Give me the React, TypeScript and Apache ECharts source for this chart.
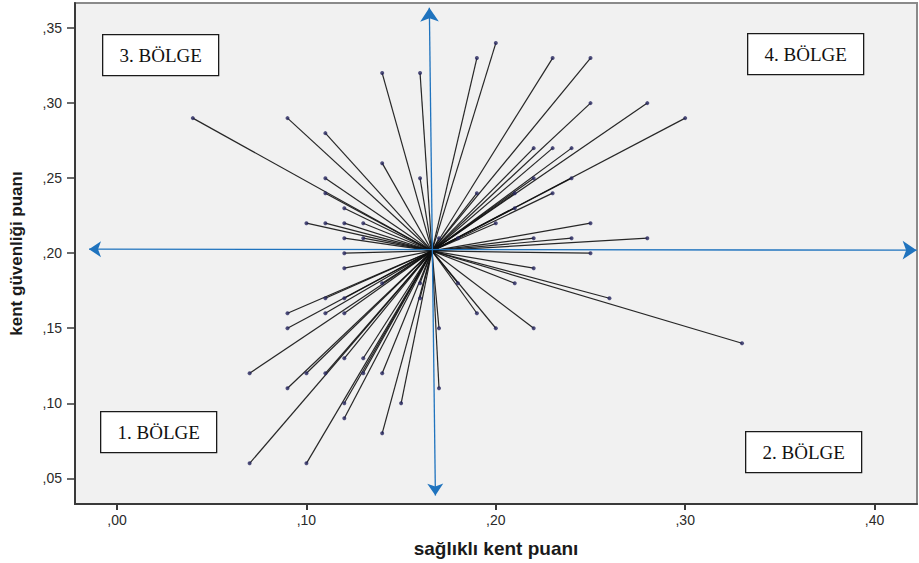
import React, { useEffect, useRef } from "react";
import * as echarts from "echarts";

// Score pairs: [sağlıklı kent puanı, kent güvenliği puanı]
const region3Points: number[][] = [
  [0.04, 0.29], [0.09, 0.29], [0.11, 0.28], [0.14, 0.32], [0.16, 0.32], [0.14, 0.26],
  [0.11, 0.25], [0.16, 0.25], [0.11, 0.24], [0.12, 0.23], [0.10, 0.22], [0.11, 0.22],
  [0.12, 0.22], [0.13, 0.22], [0.12, 0.21], [0.13, 0.21], [0.12, 0.20],
];
const region4Points: number[][] = [
  [0.19, 0.33], [0.20, 0.34], [0.23, 0.33], [0.25, 0.33], [0.25, 0.30], [0.28, 0.30],
  [0.30, 0.29], [0.22, 0.27], [0.23, 0.27], [0.24, 0.27], [0.22, 0.25], [0.24, 0.25],
  [0.19, 0.24], [0.21, 0.24], [0.23, 0.24], [0.21, 0.23], [0.20, 0.22], [0.25, 0.22],
  [0.17, 0.21], [0.18, 0.21], [0.22, 0.21], [0.24, 0.21], [0.28, 0.21], [0.25, 0.20],
];
const region2Points: number[][] = [
  [0.22, 0.19], [0.21, 0.18], [0.18, 0.18], [0.26, 0.17], [0.19, 0.16], [0.20, 0.15],
  [0.22, 0.15], [0.33, 0.14], [0.17, 0.15], [0.17, 0.11],
];
const region1Points: number[][] = [
  [0.12, 0.19], [0.14, 0.18], [0.16, 0.18], [0.11, 0.17], [0.12, 0.17], [0.16, 0.17],
  [0.09, 0.16], [0.11, 0.16], [0.12, 0.16], [0.09, 0.15], [0.12, 0.13], [0.13, 0.13],
  [0.07, 0.12], [0.10, 0.12], [0.11, 0.12], [0.13, 0.12], [0.14, 0.12], [0.09, 0.11],
  [0.12, 0.10], [0.15, 0.10], [0.12, 0.09], [0.14, 0.08], [0.07, 0.06], [0.10, 0.06],
];

// Centroid that every point is joined to
const centerX = 0.1663;
const centerY = 0.2015;

// Quadrant arrows (data coordinates)
const verticalArrow: number[][] = [[0.1681, 0.0385], [0.1649, 0.3636]];
const horizontalArrow: number[][] = [[-0.0148, 0.2027], [0.4222, 0.2020]];

const xTicks = [0, 0.1, 0.2, 0.3, 0.4];
const yTicks = [0.05, 0.1, 0.15, 0.2, 0.25, 0.3, 0.35];
const xRange = [-0.0222, 0.4224];
const yRange = [0.0329, 0.3667];

const xAxisTitle = "sağlıklı kent puanı";
const yAxisTitle = "kent güvenliği puanı";
const regionLabels = ["3. BÖLGE", "4. BÖLGE", "1. BÖLGE", "2. BÖLGE"];

const fmt = (v: number) => "," + v.toFixed(2).split(".")[1];

export default function App() {
  const ref = useRef<HTMLDivElement>(null);
  useEffect(() => {
    if (!ref.current) return;
    const chart = echarts.init(ref.current, undefined, { renderer: "svg" });
    const allPoints = [...region3Points, ...region4Points, ...region2Points, ...region1Points];
    const spokes = allPoints.map((p) => ({ coords: [[centerX, centerY], p] }));
    const sans = "'Liberation Sans', Arial, sans-serif";
    const serif = "'Liberation Serif', 'Times New Roman', serif";
    const box = (label: string, x: number, y: number) => ({
      type: "group",
      left: x,
      top: y,
      children: [
        {
          type: "rect",
          shape: { x: 0, y: 0, width: 116, height: 41 },
          style: { fill: "#ffffff", stroke: "#1a1a1a", lineWidth: 1.3 },
        },
        {
          type: "text",
          x: 58,
          y: 21,
          style: {
            text: label,
            fill: "#111",
            font: `19px ${serif}`,
            align: "center",
            verticalAlign: "middle",
          },
        },
      ],
    });
    chart.setOption({
      animation: false,
      backgroundColor: "#ffffff",
      grid: {
        left: 75,
        top: 3,
        right: 2,
        bottom: 57,
        show: true,
        backgroundColor: "#f1f1f1",
        borderColor: "#8a8a8a",
        borderWidth: 2,
      },
      xAxis: {
        type: "value",
        min: xRange[0],
        max: xRange[1],
        name: xAxisTitle,
        nameLocation: "middle",
        nameGap: 35,
        nameTextStyle: { fontFamily: sans, fontWeight: "bold", fontSize: 19, color: "#1a1a1a" },
        axisLine: { show: true, onZero: false, lineStyle: { color: "#3a3a3a", width: 2 } },
        axisTick: { show: true, customValues: xTicks, length: 6, lineStyle: { color: "#3a3a3a", width: 2 } },
        axisLabel: {
          customValues: xTicks,
          formatter: fmt,
          margin: 9,
          fontFamily: sans,
          fontSize: 14,
          color: "#2a2a2a",
        },
        splitLine: { show: false },
      },
      yAxis: {
        type: "value",
        min: yRange[0],
        max: yRange[1],
        name: yAxisTitle,
        nameLocation: "middle",
        nameGap: 50,
        nameTextStyle: { fontFamily: sans, fontWeight: "bold", fontSize: 17, color: "#1a1a1a" },
        axisLine: { show: true, onZero: false, lineStyle: { color: "#3a3a3a", width: 2 } },
        axisTick: { show: true, customValues: yTicks, length: 8, lineStyle: { color: "#3a3a3a", width: 1.5 } },
        axisLabel: {
          customValues: yTicks,
          formatter: fmt,
          margin: 13,
          fontFamily: sans,
          fontSize: 14,
          color: "#2a2a2a",
        },
        splitLine: { show: false },
      },
      series: [
        {
          type: "lines",
          coordinateSystem: "cartesian2d",
          data: spokes,
          symbol: "none",
          lineStyle: { color: "#111111", width: 1.2, opacity: 0.9 },
          silent: true,
          z: 2,
        },
        {
          type: "lines",
          coordinateSystem: "cartesian2d",
          data: [{ coords: verticalArrow }, { coords: horizontalArrow }],
          symbol: ["arrow", "arrow"],
          symbolSize: [12, 14],
          clip: false,
          lineStyle: { color: "#1f73be", width: 1.3, opacity: 1 },
          silent: true,
          z: 3,
        },
        {
          type: "scatter",
          data: allPoints,
          symbol: "circle",
          symbolSize: 4,
          itemStyle: { color: "#26265e" },
          z: 4,
        },
      ],
      graphic: [
        box(regionLabels[0], 102, 34),
        box(regionLabels[1], 747, 33),
        box(regionLabels[2], 100, 411),
        box(regionLabels[3], 745, 431),
      ],
    });
    return () => chart.dispose();
  }, []);
  return (
    <div
      ref={ref}
      style={{ position: "fixed", left: 0, top: 0, width: 919, height: 563 }}
    />
  );
}
